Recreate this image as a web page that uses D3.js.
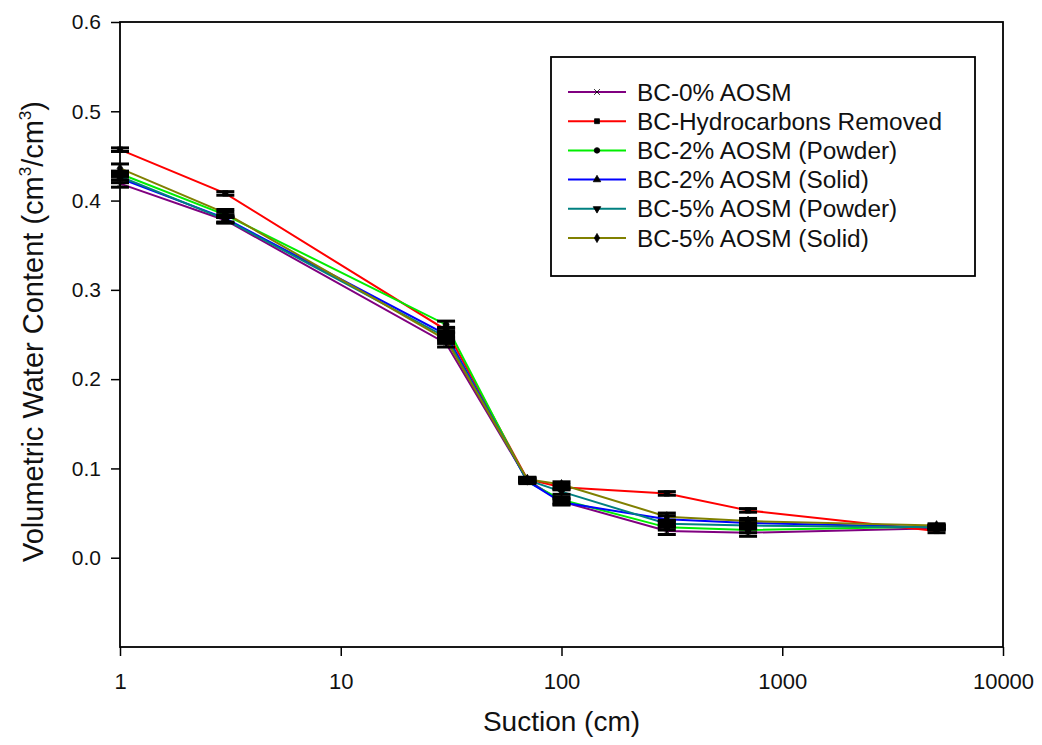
<!DOCTYPE html>
<html>
<head>
<meta charset="utf-8">
<script src="https://cdn.jsdelivr.net/npm/d3@7"></script>
<style>
  body { margin: 0; background: #fff; }
  text { font-family: Arial, "Liberation Sans", sans-serif; }
</style>
</head>
<body>
<div id="canvas"></div>
<script>
// ////////// DATA /////////////

var suction = [1, 3, 30, 70, 100, 300, 700, 5000];

var seriesNames = [
  "BC-0% AOSM",
  "BC-Hydrocarbons Removed",
  "BC-2% AOSM (Powder)",
  "BC-2% AOSM (Solid)",
  "BC-5% AOSM (Powder)",
  "BC-5% AOSM (Solid)"
];

var aosm0 = [0.419, 0.378, 0.240, 0.087, 0.063, 0.030, 0.028, 0.033];
var hcRemoved = [0.457, 0.408, 0.255, 0.088, 0.079, 0.072, 0.053, 0.030];
var aosm2Powder = [0.430, 0.384, 0.261, 0.085, 0.065, 0.034, 0.031, 0.035];
var aosm2Solid = [0.425, 0.380, 0.250, 0.086, 0.062, 0.043, 0.039, 0.034];
var aosm5Powder = [0.427, 0.379, 0.247, 0.087, 0.074, 0.038, 0.036, 0.034];
var aosm5Solid = [0.436, 0.386, 0.244, 0.088, 0.082, 0.046, 0.041, 0.036];

// error bar half widths
var err0 = [0.004, 0.003, 0.004, 0.002, 0.003, 0.004, 0.004, 0.002];
var errHc = [0.002, 0.002, 0.003, 0.002, 0.003, 0.002, 0.002, 0.002];
var err2P = [0.003, 0.003, 0.004, 0.002, 0.003, 0.003, 0.003, 0.002];
var err2S = [0.005, 0.004, 0.004, 0.002, 0.003, 0.004, 0.003, 0.002];
var err5P = [0.004, 0.004, 0.004, 0.002, 0.003, 0.003, 0.003, 0.002];
var err5S = [0.005, 0.004, 0.004, 0.002, 0.003, 0.004, 0.003, 0.002];

var colors = ["#800080", "#ff0000", "#00ee00", "#0000ff", "#008080", "#808000"];
var symbols = [d3.symbolX, d3.symbolSquare, d3.symbolCircle, d3.symbolTriangle, d3.symbolTriangle, d3.symbolDiamond];

var yTicks = [0.0, 0.1, 0.2, 0.3, 0.4, 0.5, 0.6];
var xTicks = [1, 10, 100, 1000, 10000];

var values = [aosm0, hcRemoved, aosm2Powder, aosm2Solid, aosm5Powder, aosm5Solid];
var errors = [err0, errHc, err2P, err2S, err5P, err5S];

var series = seriesNames.map((name, i) => ({
  name: name,
  color: colors[i],
  symbol: symbols[i],
  flip: i == 4,
  points: suction.map((s, j) => ({ x: s, y: values[i][j], e: errors[i][j] }))
}));

///////// GLOBAL VARS //////////

var W = 1042, H = 745;
var margin = { top: 22, right: 39, bottom: 98, left: 120 },
  width = W - margin.left - margin.right,
  height = H - margin.top - margin.bottom;

var svg = d3.select("#canvas")
  .append("svg")
  .attr("width", W)
  .attr("height", H)
  .style("background-color", "#fff");

var g = svg.append("g")
  .attr("transform", `translate(${margin.left},${margin.top})`);

var x = d3.scaleLog()
  .domain([1, 10000])
  .range([0, width]);

var y = d3.scaleLinear()
  .domain([-0.1, 0.6])
  .range([height, 0]);

// axes
var xAxis = g.append("g")
  .attr("transform", `translate(0,${height})`)
  .call(d3.axisBottom(x).tickValues(xTicks).tickFormat(d3.format("d")).tickSize(9).tickPadding(17));

var yAxis = g.append("g")
  .call(d3.axisLeft(y).tickValues(yTicks).tickFormat(d3.format(".1f")).tickSize(9).tickPadding(10));

[xAxis, yAxis].forEach(a => {
  a.select(".domain").remove();
  a.selectAll("line").attr("stroke", "#000").attr("stroke-width", 1.5);
  a.selectAll("text").attr("fill", "#111");
});
xAxis.selectAll("text").attr("font-size", 22);
yAxis.selectAll("text").attr("font-size", 21);

// frame
g.append("rect")
  .attr("x", 0)
  .attr("y", 0)
  .attr("width", width)
  .attr("height", height)
  .attr("fill", "none")
  .attr("stroke", "#000")
  .attr("stroke-width", 1.8);

// lines
var line = d3.line()
  .x(d => x(d.x))
  .y(d => y(d.y));

series.forEach(s => {
  g.append("path")
    .datum(s.points)
    .attr("fill", "none")
    .attr("stroke", s.color)
    .attr("stroke-width", 2)
    .attr("d", line);
});

// error bars
var cap = 9;
series.forEach(s => {
  var eb = g.append("g");
  eb.selectAll("line.v")
    .data(s.points)
    .join("line")
    .attr("x1", d => x(d.x))
    .attr("x2", d => x(d.x))
    .attr("y1", d => y(d.y - d.e))
    .attr("y2", d => y(d.y + d.e))
    .attr("stroke", "#000")
    .attr("stroke-width", 2);
  [-1, 1].forEach(sign => {
    eb.selectAll("line.c" + (sign > 0 ? "t" : "b"))
      .data(s.points)
      .join("line")
      .attr("x1", d => x(d.x) - cap)
      .attr("x2", d => x(d.x) + cap)
      .attr("y1", d => y(d.y + sign * d.e))
      .attr("y2", d => y(d.y + sign * d.e))
      .attr("stroke", "#000")
      .attr("stroke-width", 3);
  });
});

// markers
series.forEach(s => {
  g.append("g")
    .selectAll("path")
    .data(s.points)
    .join("path")
    .attr("d", d3.symbol().type(s.symbol).size(28))
    .attr("transform", d => `translate(${x(d.x)},${y(d.y)})` + (s.flip ? " rotate(180)" : ""))
    .attr("fill", "#000")
    .attr("stroke", "#000")
    .attr("stroke-width", 0.8);
});

// axis titles
svg.append("text")
  .attr("x", margin.left + x(100))
  .attr("y", 731)
  .attr("text-anchor", "middle")
  .attr("font-size", 28)
  .attr("fill", "#111")
  .text("Suction (cm)");

var yt = svg.append("text")
  .attr("transform", `translate(43,${margin.top + height / 2 - 3}) rotate(-90)`)
  .attr("text-anchor", "middle")
  .attr("font-size", 29)
  .attr("fill", "#111");
yt.append("tspan").text("Volumetric Water Content (cm");
yt.append("tspan").attr("font-size", 17).attr("dy", -12).text("3");
yt.append("tspan").attr("dy", 12).text("/cm");
yt.append("tspan").attr("font-size", 17).attr("dy", -12).text("3");
yt.append("tspan").attr("dy", 12).text(")");

/////// LEGEND ///////

var legend = svg.append("g")
  .attr("transform", "translate(551,57)");

legend.append("rect")
  .attr("x", 0)
  .attr("y", 0)
  .attr("width", 424)
  .attr("height", 219)
  .attr("fill", "#fff")
  .attr("stroke", "#000")
  .attr("stroke-width", 1.8);

series.forEach((s, i) => {
  var ly = 35 + i * 29.2;
  legend.append("line")
    .attr("x1", 17)
    .attr("x2", 75)
    .attr("y1", ly)
    .attr("y2", ly)
    .attr("stroke", s.color)
    .attr("stroke-width", 2);
  legend.append("path")
    .attr("d", d3.symbol().type(s.symbol).size(24))
    .attr("transform", `translate(46,${ly})` + (s.flip ? " rotate(180)" : ""))
    .attr("fill", "#000")
    .attr("stroke", "#000")
    .attr("stroke-width", 0.8);
  legend.append("text")
    .attr("x", 86)
    .attr("y", ly + 8.5)
    .attr("font-size", 24.4)
    .attr("fill", "#111")
    .text(s.name);
});
</script>
</body>
</html>
